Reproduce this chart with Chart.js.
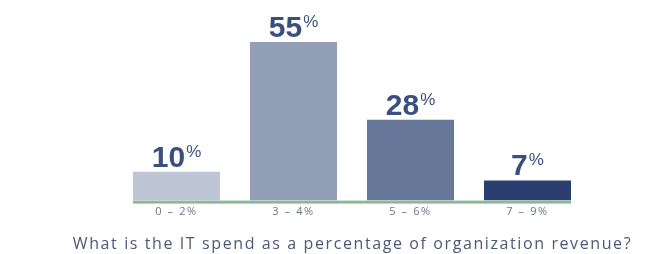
<!DOCTYPE html>
<html>
<head>
<meta charset="utf-8">
<script src="https://cdn.jsdelivr.net/npm/chart.js@4/dist/chart.umd.min.js"></script>
<style>
  html, body { margin: 0; padding: 0; background: #fff; }
  #wrap { width: 661px; height: 254px; }
</style>
</head>
<body>
<div id="wrap"><canvas id="spendChart"></canvas></div>
<script>
// données
const categories = ['0 \u2013 2%', '3 \u2013 4%', '5 \u2013 6%', '7 \u2013 9%'];
const shares = [10, 55, 28, 7];
const barColors = ['#bec5d4', '#939fb7', '#68789a', '#2c3e6f'];
const chartTitle = 'What is the IT spend as a percentage of organization revenue?';

// ligne verte sous les barres + étiquettes "55%"
const baselineAndLabels = {
  id: 'baselineAndLabels',
  beforeDraw(chart) {
    chart.ctx.letterSpacing = '1.6px';
  },
  afterDatasetsDraw(chart) {
    const ctx = chart.ctx;
    const bars = chart.getDatasetMeta(0).data;
    const first = bars[0], last = bars[bars.length - 1];
    const y0 = chart.scales.y.getPixelForValue(0);
    ctx.save();
    ctx.letterSpacing = '0px';
    ctx.fillStyle = '#8db79b';
    ctx.fillRect(first.x - first.width / 2, y0, (last.x + last.width / 2) - (first.x - first.width / 2), 3);

    bars.forEach((bar, i) => {
      const num = String(shares[i]);
      ctx.font = 'bold 30px "Liberation Sans", Arial, sans-serif';
      const wNum = ctx.measureText(num).width;
      ctx.font = '17px "Liberation Sans", Arial, sans-serif';
      const wPct = ctx.measureText('%').width;
      const left = bar.x - (wNum + wPct + 1) / 2;
      const base = bar.y - 5;
      ctx.fillStyle = '#3b4f7f';
      ctx.textBaseline = 'alphabetic';
      ctx.textAlign = 'left';
      ctx.font = 'bold 30px "Liberation Sans", Arial, sans-serif';
      ctx.fillText(num, left, base);
      ctx.font = '17px "Liberation Sans", Arial, sans-serif';
      ctx.fillText('%', left + wNum + 1, base - 10);
    });
    ctx.restore();
  }
};

// axes invisibles qui servent seulement de marges
const spacerAxis = (position, width) => ({
  position,
  min: 0,
  max: 55,
  grid: { display: false, drawTicks: false },
  border: { display: false },
  ticks: { display: false },
  afterFit(scale) { scale.width = width; }
});

new Chart(document.getElementById('spendChart'), {
  type: 'bar',
  data: {
    labels: categories,
    datasets: [{
      data: shares,
      backgroundColor: barColors,
      borderWidth: 0,
      barPercentage: 0.744,
      categoryPercentage: 1
    }]
  },
  options: {
    responsive: true,
    maintainAspectRatio: false,
    animation: false,
    layout: { padding: { left: 44, right: 0, top: 42, bottom: 0 } },
    plugins: {
      legend: { display: false },
      tooltip: { enabled: false },
      title: {
        display: true,
        position: 'bottom',
        text: chartTitle,
        color: '#4a5878',
        font: { family: '"Open Sans", sans-serif', size: 16, weight: 'normal' },
        padding: { top: 11, bottom: 0 }
      }
    },
    scales: {
      x: {
        grid: { display: false, drawTicks: false },
        border: { display: false },
        ticks: {
          color: '#6a7590',
          padding: 5,
          font: { family: '"Open Sans", sans-serif', size: 11 }
        }
      },
      y: spacerAxis('left', 74),
      yRight: spacerAxis('right', 75)
    }
  },
  plugins: [baselineAndLabels]
});
</script>
</body>
</html>
